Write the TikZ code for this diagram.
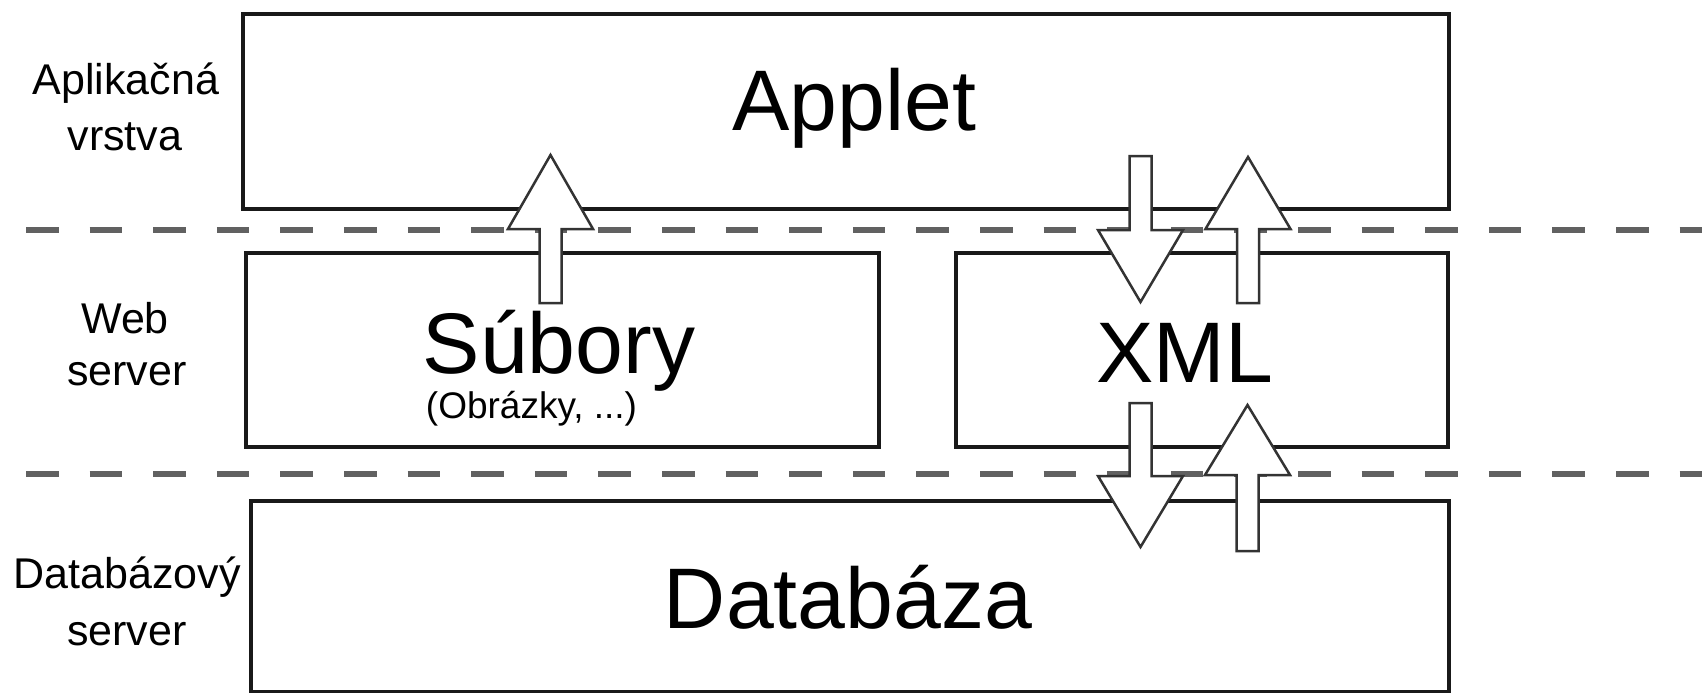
\documentclass[tikz,border=0pt]{standalone}
\usepackage{fontspec}
\setmainfont{Liberation Sans}
\newcommand\blkup[4]{% x, tip, head base, shaft end
  \draw[barrow] (#1,#2) -- (#1+42.5,#3) -- (#1+11,#3) -- (#1+11,#4) -- (#1-11,#4) -- (#1-11,#3) -- (#1-42.5,#3) -- cycle;}
\newcommand\blkdown[4]{% x, shaft top, head base, tip
  \draw[barrow] (#1-11,#2) -- (#1+11,#2) -- (#1+11,#3) -- (#1+42.5,#3) -- (#1,#4) -- (#1-42.5,#3) -- (#1-11,#3) -- cycle;}
\begin{document}
\begin{tikzpicture}[x=1pt,y=-1pt,
  box/.style={draw=black!90, line width=3.5pt, inner sep=0pt, outer sep=0pt, anchor=north west},
  sep/.style={draw=black!62, line width=5.5pt, dash pattern=on 32.5pt off 31.1pt},
  barrow/.style={draw=black!80, line width=2.5pt, fill=white, line join=miter},
  big/.style={font=\fontsize{86}{100}\selectfont, anchor=base, inner sep=0pt},
  small/.style={font=\fontsize{37}{44}\selectfont, anchor=base, inner sep=0pt},
  lab/.style={font=\fontsize{43}{52}\selectfont, anchor=base, inner sep=0pt}]
\useasboundingbox (0,0) rectangle (1702,693);
% boxes
\node[box, minimum width=1206pt, minimum height=195pt] (applet) at (243,14) {};
\node[box, minimum width=633pt, minimum height=194pt] (subory) at (246,253) {};
\node[box, minimum width=492pt, minimum height=194pt] (xml) at (956,253) {};
\node[box, minimum width=1198pt, minimum height=191pt] (db) at (251,501) {};
% separators
\coordinate (s1a) at (26,230);
\coordinate (s1b) at (1702,230);
\coordinate (s2a) at (26,474);
\coordinate (s2b) at (1702,474);
\draw[sep] (s1a) -- (s1b);
\draw[sep] (s2a) -- (s2b);
% block arrows
\blkup{550.5}{155}{229}{303}
\blkdown{1140.5}{156}{230}{302}
\blkup{1248}{157}{229}{303}
\blkdown{1140.5}{403}{476}{547}
\blkup{1247.5}{405}{475}{551}
% texts
\node[big] (tapplet) at (854.5,130) {Applet};
\node[big] (tsub) at (559,373) {Súbory};
\node[small] (tobr) at (531.5,418) {(Obrázky, ...)};
\node[big] (txml) at (1185,382) {XML};
\node[big] (tdb) at (848,628) {Databáza};
\node[lab] (l1a) at (126,94) {Aplikačná};
\node[lab] (l1b) at (125,150) {vrstva};
\node[lab] (l2a) at (125,333) {Web};
\node[lab] (l2b) at (127,385) {server};
\node[lab] (l3a) at (127,588) {Databázový};
\node[lab] (l3b) at (127,645) {server};
\end{tikzpicture}
\end{document}
